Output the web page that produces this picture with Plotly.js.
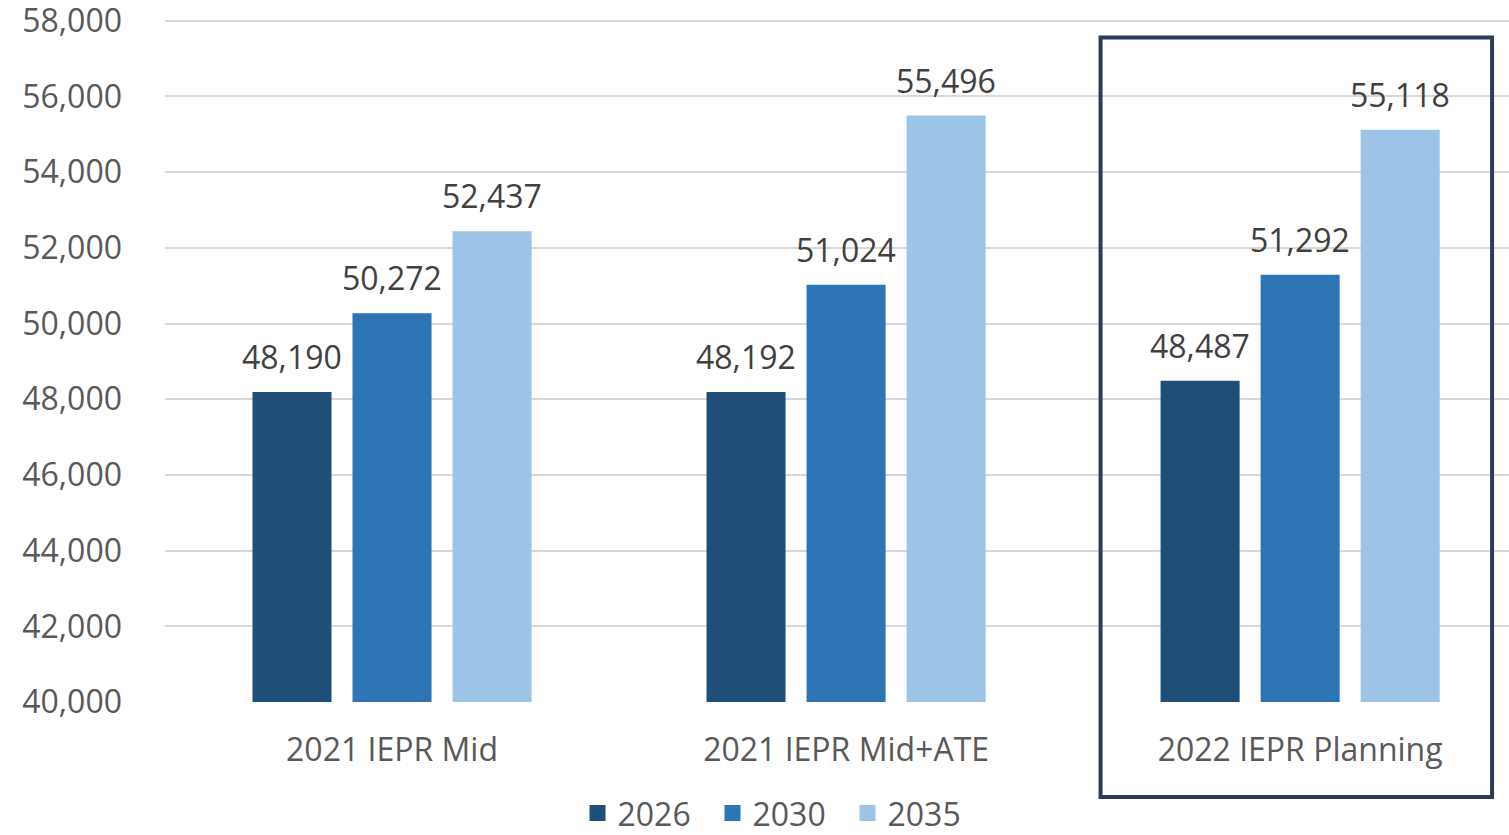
<!DOCTYPE html>
<html>
<head>
<meta charset="utf-8">
<script src="https://cdn.plot.ly/plotly-3.0.1.min.js"></script>
<style>
  body { margin: 0; background: #fff; }
  #chart { width: 1509px; height: 835px; }
</style>
</head>
<body>
<div id="chart"></div>
<script>
var categories = ['2021 IEPR Mid', '2021 IEPR Mid+ATE', '2022 IEPR Planning'];
var seriesNames = ['2026', '2030', '2035'];
var values2026 = [48190, 48192, 48487];
var values2030 = [50272, 51024, 51292];
var values2035 = [52437, 55496, 55118];
var yTicks = [40000, 42000, 44000, 46000, 48000, 50000, 52000, 54000, 56000, 58000];

var colors = ['#1f4e79', '#2e75b6', '#9dc3e6'];
var allValues = [values2026, values2030, values2035];
var fontFamily = '"Open Sans", "DejaVu Sans", sans-serif';

var traces = [];
var legendKeys = [];
var labels = [];
for (var k = 0; k < seriesNames.length; k++) {
  traces.push({
    type: 'bar',
    name: seriesNames[k],
    legendgroup: seriesNames[k],
    showlegend: false,
    x: categories,
    y: allValues[k],
    marker: { color: colors[k] },
    hoverinfo: 'x+y+name'
  });
  // legend only: bigger square keys than the bar default
  legendKeys.push({
    type: 'scatter',
    mode: 'markers',
    name: seriesNames[k],
    legendgroup: seriesNames[k],
    x: [categories[0]],
    y: [null],
    marker: { symbol: 'square', size: 16, color: colors[k] },
    hoverinfo: 'skip'
  });
  // value labels above each bar (bars in a group sit 100px apart)
  for (var i = 0; i < categories.length; i++) {
    labels.push({
      x: categories[i],
      y: allValues[k][i],
      xref: 'x',
      yref: 'y',
      text: allValues[k][i].toLocaleString('en-US'),
      showarrow: false,
      xshift: (k - 1) * 100,
      yanchor: 'bottom',
      yshift: 12,
      font: { family: fontFamily, size: 32, color: '#404040' }
    });
  }
}

var layout = {
  width: 1509,
  height: 835,
  margin: { l: 165, r: 0, t: 17, b: 133 },
  paper_bgcolor: '#ffffff',
  plot_bgcolor: '#ffffff',
  font: { family: fontFamily, size: 32, color: '#595959' },
  barmode: 'group',
  bargap: 0.339,
  bargroupgap: 0.21,
  showlegend: true,
  legend: {
    orientation: 'h',
    x: 0.4576,
    xanchor: 'center',
    yref: 'container',
    y: 0.026,
    yanchor: 'middle',
    font: { family: fontFamily, size: 32, color: '#595959' },
    itemwidth: 30,
    entrywidth: 90,
    traceorder: 'normal'
  },
  xaxis: {
    type: 'category',
    range: [-0.5, 2.46],
    showgrid: false,
    showline: false,
    zeroline: false,
    ticks: '',
    ticklabelstandoff: 26,
    tickfont: { family: fontFamily, size: 32, color: '#595959' }
  },
  yaxis: {
    range: [40000, 58100],
    tickvals: yTicks,
    tickformat: ',d',
    showgrid: true,
    gridcolor: '#d9d9d9',
    gridwidth: 2,
    zeroline: false,
    showline: false,
    ticks: '',
    ticklabelstandoff: 42,
    ticklabeloverflow: 'allow',
    tickfont: { family: fontFamily, size: 32, color: '#595959' }
  },
  annotations: labels,
  shapes: [{
    type: 'rect',
    xref: 'paper',
    yref: 'paper',
    x0: 0.6961,
    x1: 0.9874,
    y0: -0.1387,
    y1: 0.9701,
    line: { color: '#2b3d55', width: 4 },
    fillcolor: 'rgba(0,0,0,0)'
  }]
};

Plotly.newPlot('chart', traces.concat(legendKeys), layout, { displayModeBar: false, staticPlot: true });
</script>
</body>
</html>
